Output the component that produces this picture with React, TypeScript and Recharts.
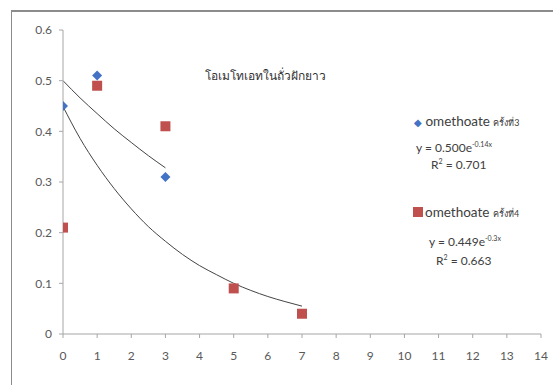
import { ComposedChart, Scatter, Line, XAxis, YAxis } from "recharts";

// measured points (x = round, y = residue)
const diamondX = [0, 1, 3];
const diamondY = [0.45, 0.51, 0.31];
const squareX = [0, 1, 3, 5, 7];
const squareY = [0.21, 0.49, 0.41, 0.09, 0.04];

// trendlines, values
const trend1X = [0, 0.5, 1, 1.5, 2, 2.5, 3];
const trend1Y = [0.5, 0.466, 0.435, 0.405, 0.378, 0.352, 0.328];
const trend2X = [0, 0.5, 1, 1.5, 2, 2.5, 3, 3.5, 4, 4.5, 5, 5.5, 6, 6.5, 7];
const trend2Y = [0.449, 0.386, 0.333, 0.287, 0.247, 0.212, 0.183, 0.157, 0.135, 0.117, 0.1, 0.086, 0.074, 0.064, 0.055];

const xTicks = [0, 1, 2, 3, 4, 5, 6, 7, 8, 9, 10, 11, 12, 13, 14];
const yTicks = [0, 0.1, 0.2, 0.3, 0.4, 0.5, 0.6];

const zip = (xs: number[], ys: number[]) => xs.map((x, i) => ({ x, y: ys[i] }));

const font = "Lato, 'Noto Sans', sans-serif";

const Diamond = (p: any) => (
  <polygon
    points={`${p.cx},${p.cy - 5} ${p.cx + 5},${p.cy} ${p.cx},${p.cy + 5} ${p.cx - 5},${p.cy}`}
    fill="#4472C4"
  />
);
const Square = (p: any) => <rect x={p.cx - 5} y={p.cy - 5} width={10} height={10} fill="#C0504D" />;

export default function App() {
  const txt = { position: "absolute" as const, fontFamily: font, color: "#404040", whiteSpace: "nowrap" as const };
  return (
    <div style={{ position: "absolute", left: 0, top: 0, width: 553, height: 385, background: "#fff" }}>
      <div style={{ position: "absolute", left: 11, top: 10, right: 0, bottom: 0, borderTop: "2px solid #8c8c8c", borderLeft: "1px solid #8c8c8c" }} />
      <ComposedChart width={553} height={385} margin={{ top: 30, right: 12, bottom: 21, left: 33 }}>
        <XAxis
          type="number"
          dataKey="x"
          domain={[0, 14]}
          ticks={xTicks}
          interval={0}
          allowDataOverflow
          stroke="#a6a6a6"
          tickSize={4}
          tick={{ fontSize: 12, fill: "#595959", fontFamily: font, dy: 11 }}
          height={30}
        />
        <YAxis
          type="number"
          dataKey="y"
          domain={[0, 0.6]}
          ticks={yTicks}
          interval={0}
          width={30}
          stroke="#a6a6a6"
          tickSize={4}
          tickFormatter={(v) => (v === 0 ? "0" : String(Number(v).toFixed(1)))}
          tick={{ fontSize: 12, fill: "#595959", fontFamily: font, dx: -5 }}
        />
        <Line data={zip(trend1X, trend1Y)} dataKey="y" type="monotone" stroke="#444" strokeWidth={1} dot={false} isAnimationActive={false} />
        <Line data={zip(trend2X, trend2Y)} dataKey="y" type="monotone" stroke="#444" strokeWidth={1} dot={false} isAnimationActive={false} />
        <Scatter data={zip(squareX, squareY)} dataKey="y" shape={Square} isAnimationActive={false} />
        <Scatter data={zip(diamondX, diamondY)} dataKey="y" shape={Diamond} isAnimationActive={false} />
      </ComposedChart>
      <div style={{ ...txt, left: 205, top: 66, fontSize: 12, color: "#333" }}>โอเมโทเอทในถั่วฝักยาว</div>
      <div style={{ ...txt, left: 414, top: 113, fontSize: 13.5 }}>
        <span style={{ color: "#4472C4", fontSize: 10 }}>◆</span> omethoate <span style={{ fontSize: 9 }}>ครั้งที่3</span>
      </div>
      <div style={{ ...txt, left: 416, top: 140, fontSize: 12 }}>
        y = 0.500e<sup style={{ fontSize: 7 }}>-0.14x</sup>
      </div>
      <div style={{ ...txt, left: 431, top: 157, fontSize: 12 }}>
        R<sup style={{ fontSize: 7 }}>2</sup> = 0.701
      </div>
      <div style={{ ...txt, left: 413, top: 204, fontSize: 13.5 }}>
        <span style={{ display: "inline-block", width: 10, height: 10, background: "#C0504D", marginRight: 2 }} />omethoate <span style={{ fontSize: 9 }}>ครั้งที่4</span>
      </div>
      <div style={{ ...txt, left: 429, top: 234, fontSize: 12 }}>
        y = 0.449e<sup style={{ fontSize: 7 }}>-0.3x</sup>
      </div>
      <div style={{ ...txt, left: 436, top: 253, fontSize: 12 }}>
        R<sup style={{ fontSize: 7 }}>2</sup> = 0.663
      </div>
    </div>
  );
}
